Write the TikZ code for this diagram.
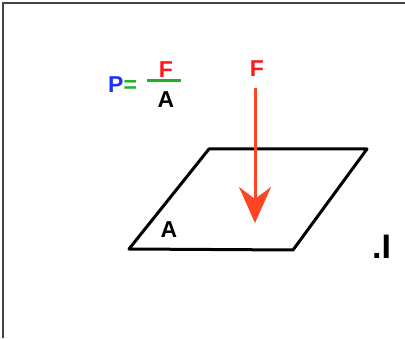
\documentclass[tikz,border=0pt]{standalone}
\usepackage{fontspec}
\setmainfont{Liberation Sans}
\definecolor{forcered}{HTML}{FF4422}
\definecolor{lblred}{HTML}{FF1A1A}
\definecolor{pblue}{HTML}{1E32FF}
\definecolor{eqgreen}{HTML}{22B022}
\definecolor{framegray}{HTML}{444444}
\usetikzlibrary{arrows.meta, positioning}

\begin{document}
\begin{tikzpicture}[
    x=1pt, y=1pt,
    lbl/.style={font=\fontsize{23}{23}\selectfont\bfseries, inner sep=0pt, anchor=base},
    plate/.style={line width=3pt, line join=round, black},
    force/.style={-{Stealth[length=36pt, width=32pt, inset=12pt]}, line width=3pt, forcered},
    fracbar/.style={line width=3pt, eqgreen}
  ]
  \useasboundingbox (0,0) rectangle (405,338);
  % frame
  \draw[framegray, line width=2pt] (3,0) -- (3,334.5) -- (405,334.5);

  % pressure formula
  \node[lbl, anchor=base west] (pEq) at (108,245) {\textcolor{pblue}{P}\textcolor{eqgreen}{=}};
  \node[lbl, lblred] (fracF) at (166,260) {F};
  \node[lbl] (fracA) at (166,230) {A};
  \draw[fracbar] (147,257) -- (181,257);

  % plate
  \coordinate (bl) at (129,89);
  \coordinate (br) at (293,88);
  \coordinate (tr) at (367,189);
  \coordinate (tl) at (209,189);
  \draw[plate] (bl) -- (br) -- (tr) -- (tl) -- cycle;
  \node[lbl] (areaA) at (169,100) {A};

  % force
  \node[lbl, lblred] (forceF) at (257,261) {F};
  \coordinate (ftip) at (255,115);
  \draw[force] (forceF.south -| ftip) ++(0,-11) -- (ftip);

  \node[lbl, font=\fontsize{34}{34}\selectfont\bfseries, anchor=base west] (cut) at (372,79) {.I};
\end{tikzpicture}
\end{document}
